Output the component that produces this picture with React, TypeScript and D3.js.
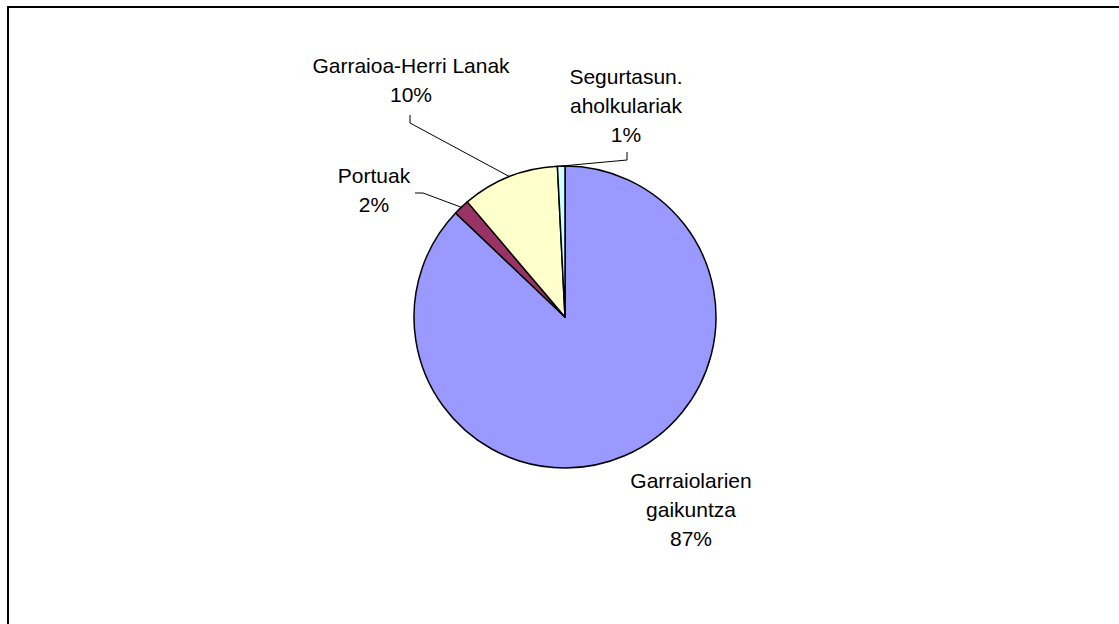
import React from "react";
import * as d3 from "d3";

const categories = ["Garraiolarien gaikuntza", "Portuak", "Garraioa-Herri Lanak", "Segurtasun. aholkulariak"];
const values = [87.1, 1.7, 10.4, 0.8];
const colors = ["#9999FF", "#993366", "#FFFFCC", "#CCFFFF"];
const labelLines = [
  ["Garraiolarien", "gaikuntza"],
  ["Portuak"],
  ["Garraioa-Herri Lanak"],
  ["Segurtasun.", "aholkulariak"],
];

// layout of labels (x center, first baseline) and leader anchor
const labelPos = [
  { x: 691, y: 488, leader: null as null | { x: number; y: number; kind: string } },
  { x: 374, y: 183, leader: { x: 415, y: 193, kind: "h" } },
  { x: 411, y: 73, leader: { x: 410, y: 115, kind: "v" } },
  { x: 626, y: 84, leader: { x: 627, y: 152, kind: "v" } },
];

export default function App() {
  const W = 1119, H = 624;
  const cx = 565, cy = 317, r = 151;
  const lineH = 29;
  const total = d3.sum(values);
  const pie = d3.pie<number>().sort(null).value((d) => d);
  const arcs = pie(values);
  const arc = d3.arc<d3.PieArcDatum<number>>().innerRadius(0).outerRadius(r);
  const pct = (v: number) => `${Math.round((v / total) * 100)}%`;

  return (
    <svg width={W} height={H} style={{ position: "absolute", left: 0, top: 0 }} fontFamily="'Liberation Sans', Arial, sans-serif">
      <rect x={0} y={0} width={W} height={H} fill="#fff" />
      <rect x={8} y={7} width={W + 20} height={H + 20} fill="none" stroke="#000" strokeWidth={2} />
      <g transform={`translate(${cx},${cy})`}>
        {arcs.map((a, i) => (
          <path key={i} d={arc(a) || ""} fill={colors[i]} stroke="#000" strokeWidth={1.5} strokeLinejoin="round" />
        ))}
      </g>
      {arcs.map((a, i) => {
        const lp = labelPos[i];
        if (!lp.leader) return null;
        const mid = (a.startAngle + a.endAngle) / 2;
        const ex = cx + r * Math.sin(mid);
        const ey = cy - r * Math.cos(mid);
        const { x, y, kind } = lp.leader;
        const bend = kind === "h" ? { x: x + 8, y } : { x, y: y + 8 };
        return (
          <polyline key={"l" + i} points={`${x},${y} ${bend.x},${bend.y} ${ex},${ey}`} fill="none" stroke="#000" strokeWidth={1} />
        );
      })}
      {labelLines.map((lines, i) => {
        const lp = labelPos[i];
        const all = [...lines, pct(values[i])];
        return (
          <text key={"t" + i} x={lp.x} y={lp.y} textAnchor="middle" fontSize={21} fill="#000">
            {all.map((s, j) => (
              <tspan key={j} x={lp.x} y={lp.y + j * lineH}>{s}</tspan>
            ))}
          </text>
        );
      })}
    </svg>
  );
}
